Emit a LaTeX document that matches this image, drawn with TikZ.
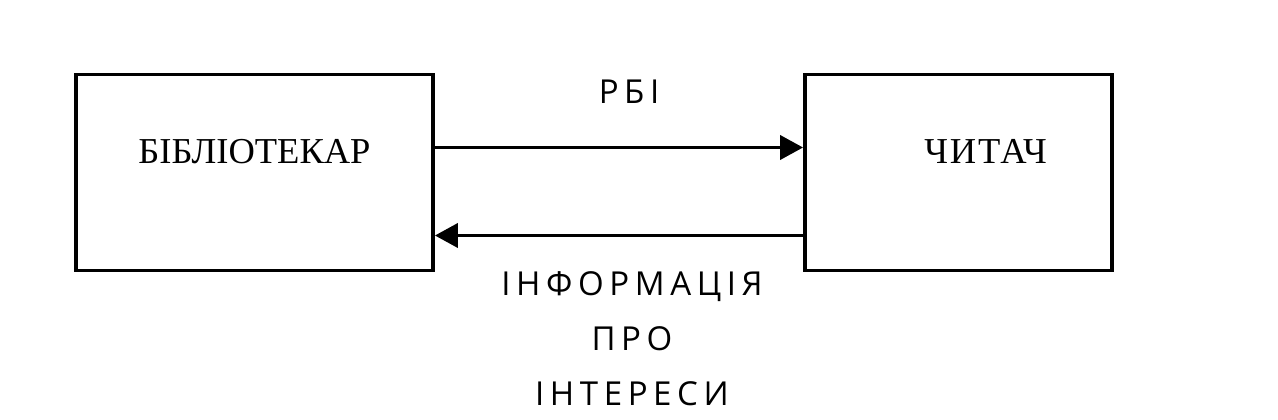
\documentclass[tikz,border=0pt]{standalone}
\usepackage{fontspec}
\setmainfont{Liberation Serif}
\newfontfamily\labelfont[LetterSpace=17]{Open Sans}
\newfontfamily\widefont[LetterSpace=5]{Liberation Serif}
\usetikzlibrary{positioning,arrows.meta}

\tikzset{
	blok/.style={draw,line width=3.8pt,minimum width=357pt,minimum height=196pt,inner sep=0pt},
	bloktext/.style={font=\fontsize{36.5}{40}\selectfont,inner sep=0pt},
	flowtext/.style={font=\labelfont\fontsize{33}{55}\selectfont,align=center,inner sep=0pt},
	flow/.style={line width=3.8pt,-{Triangle[length=23pt,width=24pt]}}
}

\begin{document}
\begin{tikzpicture}[x=1pt,y=-1pt]
			\useasboundingbox (0,0) rectangle (1278,420);
			\node[blok] (bibl) at (254.5,172.5) {};
			\node[blok,minimum width=307pt] (chytach) at (958.5,172.5) {};
			\node[bloktext] (bibltext) at ([yshift=21pt]bibl.center) {БІБЛІОТЕКАР};
			\node[bloktext,font=\widefont\fontsize{36.5}{40}\selectfont] (chytachtext) at ([xshift=27pt,yshift=21pt]chytach.center) {ЧИТАЧ};
			\path[flow]
			([yshift=25pt]bibl.east) edge ([yshift=25pt]chytach.west)
			([yshift=-63pt]chytach.west) edge ([yshift=-63pt]bibl.east);
			\node[flowtext] (rbi) at (629,92) {РБІ};
			\node[flowtext,anchor=north] (info) at (632,271) {ІНФОРМАЦІЯ\\ПРО\\ІНТЕРЕСИ};
			%\draw[dashed,->] (bibl) -- (chytach);
		\end{tikzpicture}
\end{document}
